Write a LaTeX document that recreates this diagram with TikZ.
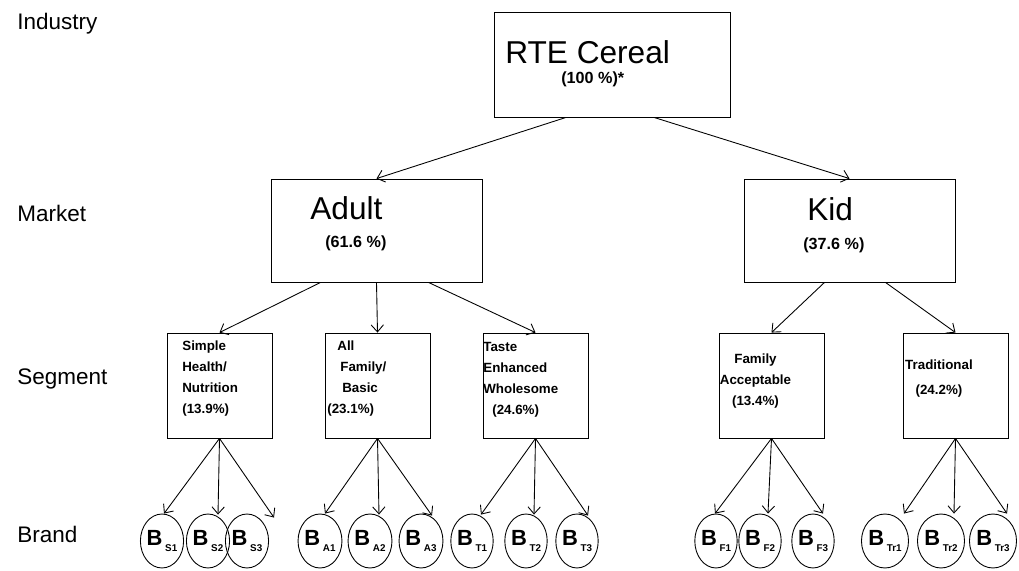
\documentclass[tikz,border=0pt]{standalone}
\usepackage{fontspec}
\setmainfont{Liberation Sans}
\usetikzlibrary{shapes.geometric,arrows.meta,calc}
\newcommand{\brandlbl}[1]{B\hspace{1.5pt}\raisebox{-3pt}{\fontsize{5.6}{6}\selectfont #1}}

\begin{document}
\begin{tikzpicture}[x=0.02cm,y=-0.02cm]
	\tikzstyle{every node}+=[inner sep=0pt]
	\tikzstyle{level}=[anchor=base west,font=\fontsize{12.8}{14}\selectfont]
	\tikzstyle{box}=[draw,rectangle,line width=0.5pt]
	\tikzstyle{big}=[anchor=base west,font=\fontsize{18}{20}\selectfont]
	\tikzstyle{share}=[anchor=base west,font=\bfseries\fontsize{9.2}{11}\selectfont]
	\tikzstyle{seg}=[font=\bfseries\fontsize{7.6}{12}\selectfont]
	\tikzstyle{brand}=[draw,ellipse,line width=0.5pt,minimum width=0.84cm,minimum height=1.08cm,font=\bfseries\fontsize{12.5}{13}\selectfont]
	\tikzstyle{link}=[-{Straight Barb[length=4pt,width=7pt]},line width=0.5pt]
	\useasboundingbox (0,0) rectangle (1019,571);
	% levels
	\node[level] (industry) at (17,30) {Industry};
	\node[level] (market) at (17,222) {Market};
	\node[level] (segment) at (17,384) {Segment};
	\node[level] (brandlvl) at (17,542) {Brand};
	% industry
	\node[box,minimum width=4.72cm,minimum height=2.1cm] (rte) at (612,64.5) {};
	\node[big] (rtet) at (505,64) {RTE Cereal};
	\node[share] (rtep) at (561,84) {(100 \%)*};
	% markets
	\node[box,minimum width=4.22cm,minimum height=2.06cm] (adult) at (376.5,230.5) {};
	\node[big] (adultt) at (310,220) {Adult};
	\node[share] (adultp) at (325,248) {(61.6 \%)};
	\node[box,minimum width=4.22cm,minimum height=2.06cm] (kid) at (849.5,230.5) {};
	\node[big] (kidt) at (807,221) {Kid};
	\node[share] (kidp) at (803,250) {(37.6 \%)};
	% segments
	\node[box,minimum width=2.1cm,minimum height=2.1cm] (simple) at (219.5,385.5) {};
	\node[box,minimum width=2.1cm,minimum height=2.1cm] (all) at (377.5,385.5) {};
	\node[box,minimum width=2.1cm,minimum height=2.1cm] (taste) at (535.5,385.5) {};
	\node[box,minimum width=2.1cm,minimum height=2.1cm] (famacc) at (771.5,385.5) {};
	\node[box,minimum width=2.1cm,minimum height=2.1cm] (trad) at (955.5,385.5) {};
	\node[seg,anchor=north west,align=left] (simplet) at (182,340) {Simple\\Health/\\Nutrition\\(13.9\%)};
	\node[seg,anchor=north west,align=left] (allt) at (327,340) {\hspace*{5.7pt}All\\\hspace*{7.4pt}Family/\\\hspace*{8.5pt}Basic\\(23.1\%)};
	\node[seg,anchor=north west,align=left] (tastet) at (483,342) {Taste\\Enhanced\\Wholesome\\\hspace*{5.1pt}(24.6\%)};
	\node[seg,anchor=north,align=center] (famacct) at (755.5,353) {Family\\Acceptable\\(13.4\%)};
	\node[seg,anchor=north,align=center] (tradt) at (939,359) {Traditional\\[2.5pt](24.2\%)};
	% brands
	\node[brand] (s1) at (162,541) {\brandlbl{S1}};
	\node[brand] (s2) at (208,541) {\brandlbl{S2}};
	\node[brand] (s3) at (247,541) {\brandlbl{S3}};
	\node[brand] (a1) at (320,541) {\brandlbl{A1}};
	\node[brand] (a2) at (370,541) {\brandlbl{A2}};
	\node[brand] (a3) at (421,541) {\brandlbl{A3}};
	\node[brand] (t1) at (472,541) {\brandlbl{T1}};
	\node[brand] (t2) at (526,541) {\brandlbl{T2}};
	\node[brand] (t3) at (577,541) {\brandlbl{T3}};
	\node[brand] (f1) at (716,541) {\brandlbl{F1}};
	\node[brand] (f2) at (760,541) {\brandlbl{F2}};
	\node[brand] (f3) at (813,541) {\brandlbl{F3}};
	\node[brand] (tr1) at (885,541) {\brandlbl{Tr1}};
	\node[brand] (tr2) at (941,541) {\brandlbl{Tr2}};
	\node[brand] (tr3) at (993,541) {\brandlbl{Tr3}};
	% links
	\draw[link] ($(rte.south)+(-46,0)$) -- (adult.north);
	\draw[link] ($(rte.south)+(42,0)$) -- (kid.north);
	\draw[link] ($(adult.south)+(-56,0)$) -- (simple.north);
	\draw[link] (adult.south) -- (all.north);
	\draw[link] ($(adult.south)+(52,0)$) -- (taste.north);
	\draw[link] ($(kid.south)+(-25,0)$) -- (famacc.north);
	\draw[link] ($(kid.south)+(36,0)$) -- (trad.north);
	\draw[link] (simple.south) -- ($(s1.north)+(2,0)$);
	\draw[link] (simple.south) -- ($(s2.north)+(10,1)$);
	\draw[link] (simple.south) -- ($(s3.north)+(27,4)$);
	\draw[link] (all.south) -- ($(a1.north)+(5,0)$);
	\draw[link] (all.south) -- ($(a2.north)+(9,1)$);
	\draw[link] (all.south) -- ($(a3.north)+(11,2)$);
	\draw[link] (taste.south) -- ($(t1.north)+(9,1)$);
	\draw[link] (taste.south) -- ($(t2.north)+(8,1)$);
	\draw[link] (taste.south) -- ($(t3.north)+(11,2)$);
	\draw[link] (famacc.south) -- ($(f1.north)+(-1,0)$);
	\draw[link] (famacc.south) -- ($(f2.north)+(8,0)$);
	\draw[link] (famacc.south) -- ($(f3.north)+(10,0)$);
	\draw[link] (trad.south) -- ($(tr1.north)+(19,0)$);
	\draw[link] (trad.south) -- ($(tr2.north)+(13,0)$);
	\draw[link] (trad.south) -- ($(tr3.north)+(14,0)$);
\end{tikzpicture}
\end{document}
